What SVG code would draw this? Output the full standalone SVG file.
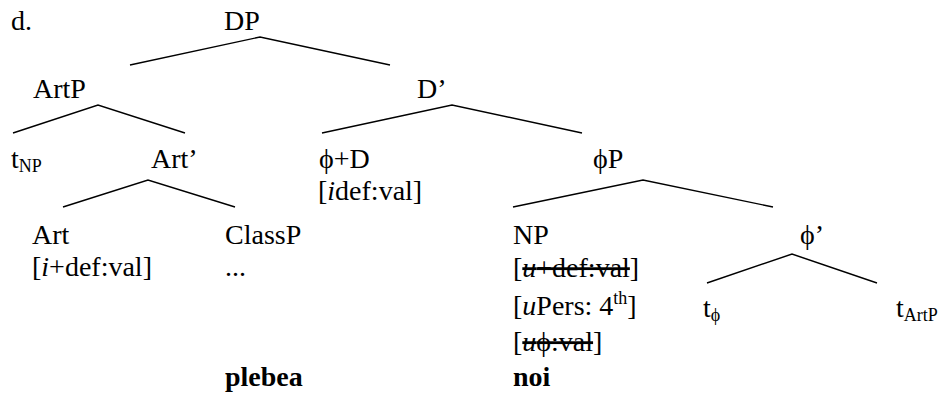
<svg xmlns="http://www.w3.org/2000/svg" width="941" height="397" viewBox="0 0 941 397">
<style>
  text { font-family: "Liberation Serif", "Times New Roman", serif; font-size: 28px; fill: #000; }
  .sm { font-size: 18px; }
  .it { font-style: italic; }
  .b { font-weight: bold; }
  .st { text-decoration: line-through; }
  .edge { stroke: #000; stroke-width: 1.4; fill: none; }
</style>
<rect width="941" height="397" fill="#fff"/>
<g id="connectors">
  <polyline class="edge" points="130,65 260,37 390,65"/>
  <polyline class="edge" points="13,133 98,105 185,133"/>
  <polyline class="edge" points="322,133 452,105 582,133"/>
  <polyline class="edge" points="63,207 148,180 235,207"/>
  <polyline class="edge" points="513,207 643,180 773,207"/>
  <polyline class="edge" points="707,283 792,254 877,283"/>
</g>
<g id="label-d"><text x="11" y="30">d.</text></g>
<g id="node-DP"><text x="224" y="30">DP</text></g>
<g id="node-ArtP"><text x="33" y="98">ArtP</text></g>
<g id="node-Dbar"><text x="417" y="98">D’</text></g>
<g id="node-tNP"><text x="11" y="168">t<tspan class="sm" dy="4">NP</tspan></text></g>
<g id="node-Artbar"><text x="151" y="168">Art’</text></g>
<g id="node-phiD"><text x="319" y="168">ϕ+D</text><text x="318" y="200">[<tspan class="it">i</tspan>def:val]</text></g>
<g id="node-phiP"><text x="593" y="168">ϕP</text></g>
<g id="node-Art"><text x="32" y="244">Art</text><text x="32" y="276">[<tspan class="it">i</tspan>+def:val]</text></g>
<g id="node-ClassP"><text x="225" y="244">ClassP</text><text x="225" y="276">...</text><text class="b" x="225" y="386">plebea</text></g>
<g id="node-NP">
  <text x="513" y="244">NP</text>
  <text x="513" y="277">[<tspan class="st"><tspan class="it">u</tspan>+def:val</tspan>]</text>
  <text x="513" y="315">[<tspan class="it">u</tspan>Pers: 4<tspan class="sm" dy="-11">th</tspan><tspan dy="11">]</tspan></text>
  <text x="513" y="351">[<tspan class="st"><tspan class="it">u</tspan>ϕ:val</tspan>]</text>
  <text class="b" x="513" y="386">noi</text>
</g>
<g id="node-phibar"><text x="800" y="244">ϕ’</text></g>
<g id="node-tphi"><text x="703" y="317">t<tspan class="sm" dy="4">ϕ</tspan></text></g>
<g id="node-tArtP"><text x="896" y="317">t<tspan class="sm" dy="4">ArtP</tspan></text></g>
</svg>
